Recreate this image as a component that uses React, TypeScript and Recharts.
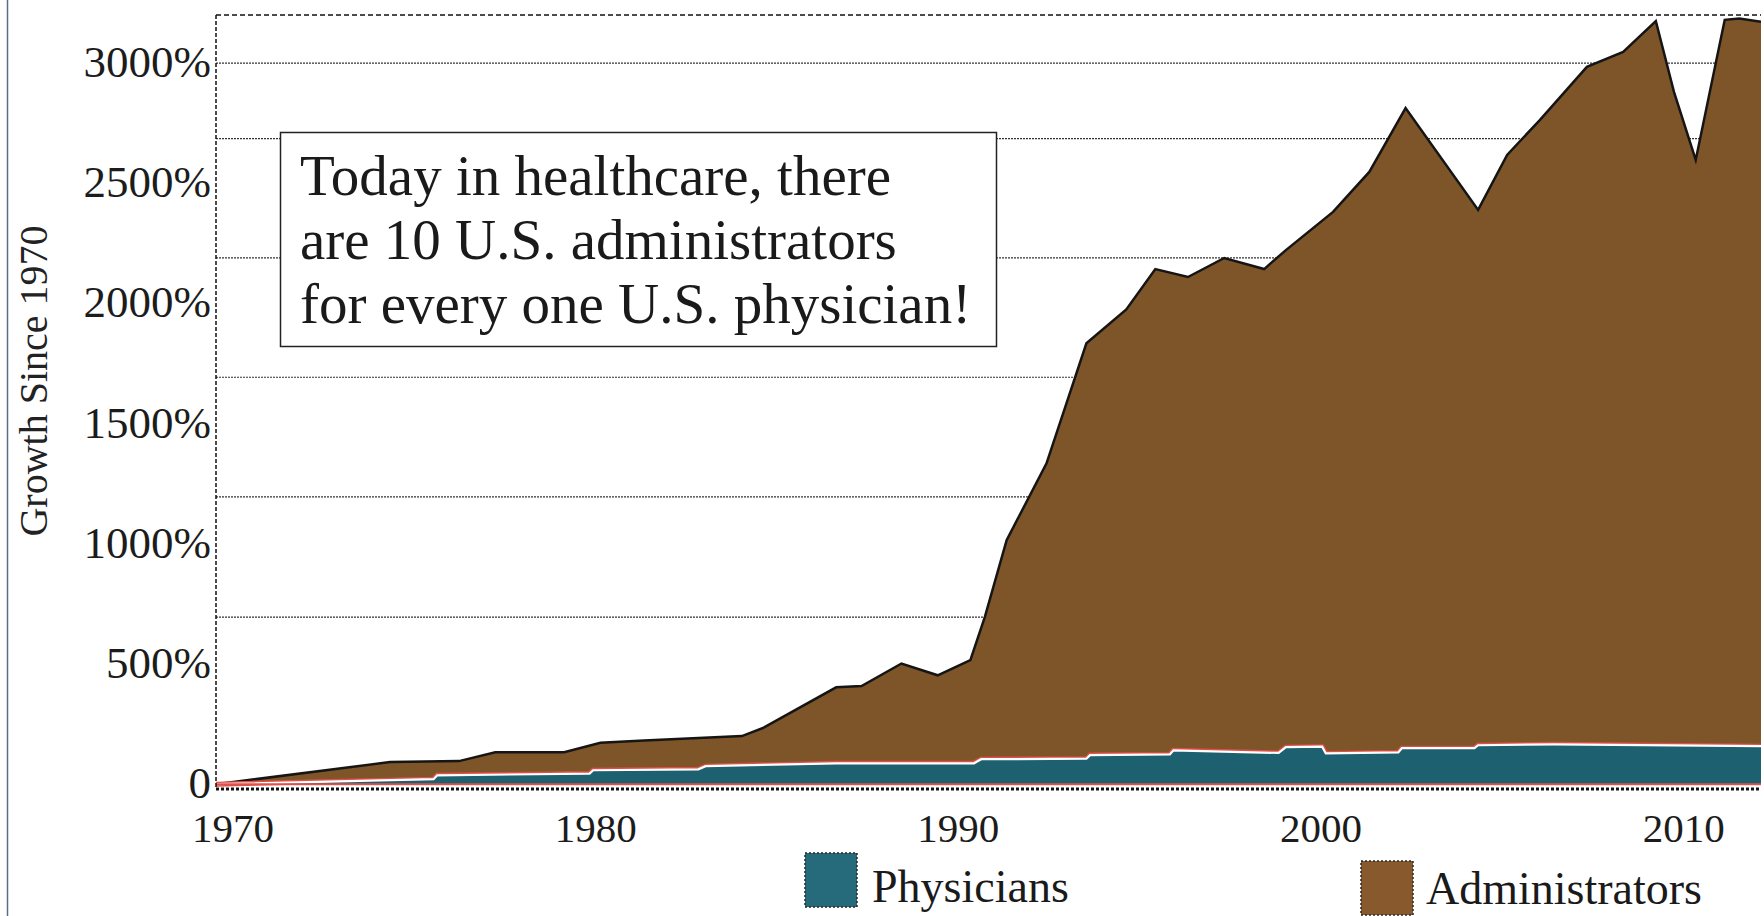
import React from 'react';
import { AreaChart, Area, XAxis, YAxis, CartesianGrid, ReferenceLine } from 'recharts';

// administrators: growth since 1970 (%)
const adminYears = [
  1970, 1974.8, 1976.7, 1977.7, 1979.6, 1980.6, 1981.8, 1984.5, 1985.1, 1987.1, 1987.8,
  1988.9, 1989.9, 1990.8, 1991.2, 1991.8, 1992.9, 1994.0, 1995.1, 1995.9, 1996.8, 1997.8,
  1998.9, 1999.5, 2000.8, 2001.8, 2002.8, 2004.8, 2005.6, 2006.5, 2007.8, 2008.8, 2009.7,
  2010.2, 2010.8, 2011.6, 2012.0, 2012.6,
];
const adminValues = [
  0, 92, 96, 133, 133, 172, 182, 200, 235, 403, 408,
  502, 453, 516, 696, 1015, 1335, 1834, 1975, 2143, 2110, 2189,
  2143, 2222, 2381, 2547, 2813, 2389, 2618, 2763, 2984, 3046, 3175,
  2880, 2597, 3180, 3185, 3172,
];

// physicians: growth since 1970 (%)
const physYears = [
  1970, 1976.0, 1976.1, 1980.3, 1980.4, 1983.3, 1983.5, 1987.1, 1990.9, 1991.1, 1994.0,
  1994.1, 1996.3, 1996.4, 1999.3, 1999.5, 2000.5, 2000.6, 2002.6, 2002.7, 2004.7, 2004.8,
  2006.9, 2012.6,
];
const physValues = [
  0, 21, 37, 44, 58, 62, 75, 87, 87, 104, 106,
  121, 124, 141, 130, 154, 156, 128, 132, 150, 150, 162,
  166, 158,
];

const xTicks = [1970, 1980, 1990, 2000, 2010];
const yTicks = [0, 500, 1000, 1500, 2000, 2500, 3000];
const gridValues = [3000, 2686, 2190, 1693, 1195, 695];

const noteLines = [
  'Today in healthcare, there',
  'are 10 U.S. administrators',
  'for every one U.S. physician!',
];

const legendItems = [
  { name: 'Physicians', color: '#256b7b', box: [805, 853], text: [872, 902] },
  { name: 'Administrators', color: '#87592d', box: [1361, 861], text: [1426, 904] },
];

const FONT = '"Liberation Serif", "Times New Roman", serif';
const BROWN = '#7e5529';
const TEAL = '#1d6170';

// merge the two series on one year column
const allYears = Array.from(new Set([...adminYears, ...physYears])).sort((a, b) => a - b);
const data = allYears.map((year) => {
  const ai = adminYears.indexOf(year);
  const pi = physYears.indexOf(year);
  return {
    year,
    admin: ai >= 0 ? adminValues[ai] : null,
    phys: pi >= 0 ? physValues[pi] : null,
  };
});

const XTick = (props: any) => {
  const { x, y, payload } = props;
  return (
    <text x={x + 17} y={y + 53} textAnchor="middle" fontSize={41} fill="#1c1c1c" fontFamily={FONT}>
      {payload.value}
    </text>
  );
};

const YTick = (props: any) => {
  const { x, y, payload } = props;
  return (
    <text x={x} y={y + 14} textAnchor="end" fontSize={45} fill="#1c1c1c" fontFamily={FONT}>
      {payload.value === 0 ? '0' : `${payload.value}%`}
    </text>
  );
};

const App: React.FC = () => {
  return (
    <div style={{ position: 'absolute', left: 0, top: 0, width: 1764, height: 916, background: '#fff', fontFamily: FONT }}>
      <AreaChart width={1764} height={916} data={data} margin={{ top: 15, right: 3, left: 0, bottom: 67 }}>
        <CartesianGrid
          horizontal={true}
          vertical={false}
          horizontalValues={gridValues}
          stroke="#333"
          strokeDasharray="2 1"
          strokeWidth={1.2}
        />
        <XAxis
          dataKey="year"
          type="number"
          domain={[1970, 2012.6]}
          allowDataOverflow
          ticks={xTicks}
          tick={<XTick />}
          tickLine={false}
          tickSize={0}
          tickMargin={0}
          height={60}
          axisLine={{ stroke: '#111', strokeWidth: 3, strokeDasharray: '3 2' }}
        />
        <YAxis
          type="number"
          domain={[-20, 3200]}
          allowDataOverflow
          ticks={yTicks}
          tick={<YTick />}
          tickLine={false}
          tickSize={0}
          tickMargin={5}
          width={216}
          axisLine={{ stroke: '#111', strokeWidth: 1.5, strokeDasharray: '4 2' }}
        />
        <ReferenceLine y={3200} stroke="#111" strokeWidth={1.6} strokeDasharray="5 3" />
        <Area
          type="linear"
          dataKey="admin"
          baseValue={0}
          connectNulls
          fill={BROWN}
          fillOpacity={1}
          stroke="#151515"
          strokeWidth={2.5}
          dot={false}
          activeDot={false}
          isAnimationActive={false}
        />
        <Area
          type="linear"
          dataKey="phys"
          baseValue={0}
          connectNulls
          fill={TEAL}
          fillOpacity={1}
          stroke="#e0504a"
          strokeWidth={5}
          dot={false}
          activeDot={false}
          isAnimationActive={false}
        />
        <Area
          type="linear"
          dataKey="phys"
          name="physEdge"
          baseValue={0}
          connectNulls
          fill={TEAL}
          fillOpacity={1}
          stroke="#ffffff"
          strokeWidth={2.2}
          dot={false}
          activeDot={false}
          isAnimationActive={false}
        />
        <ReferenceLine y={0} stroke="#e0504a" strokeWidth={2} />
      </AreaChart>

      <svg
        width={1764}
        height={916}
        style={{ position: 'absolute', left: 0, top: 0, pointerEvents: 'none' }}
        fontFamily={FONT}
      >
        <line x1={7.5} y1={0} x2={7.5} y2={916} stroke="#56708c" strokeWidth={1.5} />
        <text
          x={33}
          y={381}
          transform="rotate(-90, 33, 381)"
          textAnchor="middle"
          dominantBaseline="central"
          fontSize={40}
          fill="#222"
        >
          Growth Since 1970
        </text>

        <rect x={280.5} y={132.5} width={716} height={214} fill="#fff" stroke="#222" strokeWidth={1.5} />
        {noteLines.map((line, i) => (
          <text key={line} x={300} y={195 + i * 64} fontSize={57} fill="#1a1a1a">
            {line}
          </text>
        ))}

        {legendItems.map((item) => (
          <g key={item.name}>
            <rect
              x={item.box[0]}
              y={item.box[1]}
              width={52}
              height={54}
              fill={item.color}
              stroke="#2a2a2a"
              strokeWidth={1.5}
              strokeDasharray="2 2"
            />
            <text x={item.text[0]} y={item.text[1]} fontSize={46} fill="#1a1a1a">
              {item.name}
            </text>
          </g>
        ))}
      </svg>
    </div>
  );
};

export default App;
